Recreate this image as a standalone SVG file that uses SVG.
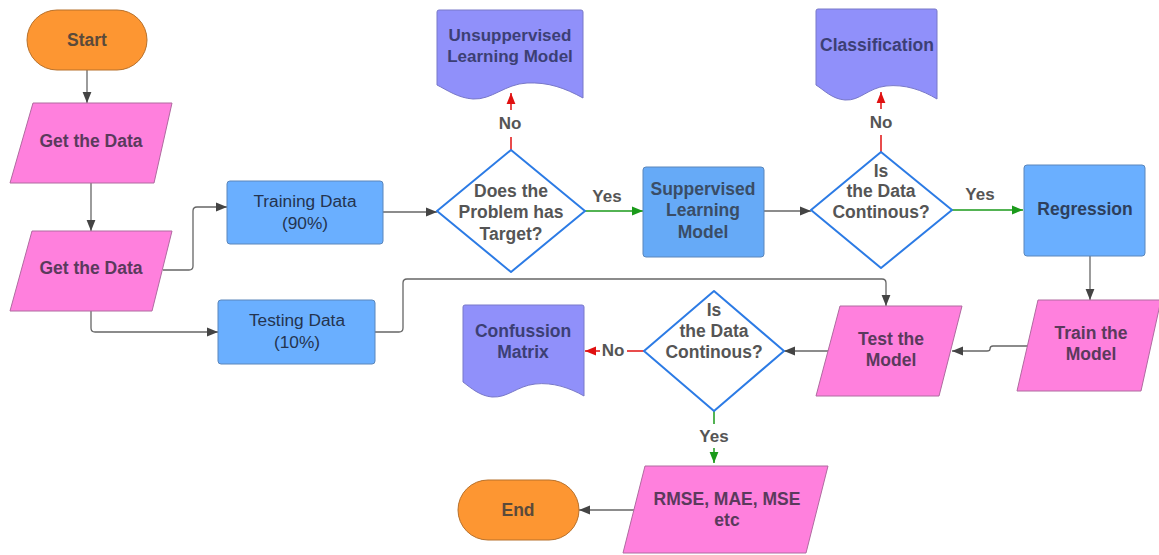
<svg xmlns="http://www.w3.org/2000/svg" width="1159" height="555" viewBox="0 0 1159 555">
<style>
text{font-family:"Liberation Sans",Arial,sans-serif;text-anchor:middle;dominant-baseline:central}
.b{font-weight:bold}
.term{fill:#fd9632;stroke:#b7702a;stroke-width:1}
.io{fill:#ff80dd;stroke:#b06aa0;stroke-width:1;stroke-linejoin:round}
.proc{fill:#6aafff;stroke:#5a86bb;stroke-width:1}
.doc{fill:#9090fa;stroke:#7878c8;stroke-width:1}
.dec{fill:#fff;stroke:#2c7be5;stroke-width:2;stroke-linejoin:round}
.tio{fill:#5a3a5c;font-size:17.5px}
.tproc{fill:#24344f;font-size:17.3px}
.tdoc{fill:#3c3f74;font-size:17.5px}
.tdec{fill:#555;font-size:17.5px}
.tterm{fill:#5a4a3a;font-size:17.5px}
.lbl{fill:#555;font-size:17px;font-weight:bold}
.c{fill:none;stroke:#666;stroke-width:1.3}
.r{fill:none;stroke:#e01010;stroke-width:1.5}
.g{fill:none;stroke:#1a9a1a;stroke-width:1.5}
</style>
<defs>
<marker id="ag" viewBox="0 0 10 10" refX="10" refY="5" markerWidth="11" markerHeight="11" markerUnits="userSpaceOnUse" orient="auto"><path d="M0,1 L10,5 L0,9 z" fill="#444"/></marker>
<marker id="ar" viewBox="0 0 10 10" refX="10" refY="5" markerWidth="11" markerHeight="11" markerUnits="userSpaceOnUse" orient="auto"><path d="M0,1 L10,5 L0,9 z" fill="#e01010"/></marker>
<marker id="agr" viewBox="0 0 10 10" refX="10" refY="5" markerWidth="11" markerHeight="11" markerUnits="userSpaceOnUse" orient="auto"><path d="M0,1 L10,5 L0,9 z" fill="#1a9a1a"/></marker>
</defs>
<rect width="1159" height="555" fill="#fff"/>

<g id="connectors">
<path class="c" d="M87,70 V103" marker-end="url(#ag)"/>
<path class="c" d="M91,183 V231" marker-end="url(#ag)"/>
<path class="c" d="M163,270 H189 Q193,270 193,266 V211 Q193,207 197,207 H227" marker-end="url(#ag)"/>
<path class="c" d="M91,311 V328 Q91,332 95,332 H218" marker-end="url(#ag)"/>
<path class="c" d="M383,212 H437" marker-end="url(#ag)"/>
<path class="r" d="M511,150 V137"/>
<path class="r" d="M511,110 V93" marker-end="url(#ar)"/>
<path class="g" d="M585,211 H643" marker-end="url(#agr)"/>
<path class="c" d="M764,211 H811" marker-end="url(#ag)"/>
<path class="r" d="M881,152 V135"/>
<path class="r" d="M881,109 V92" marker-end="url(#ar)"/>
<path class="g" d="M952,210 H1023" marker-end="url(#agr)"/>
<path class="c" d="M1090,256 V300" marker-end="url(#ag)"/>
<path class="c" d="M1028,346 H993 Q990,346 990,349 Q990,351 987,351 H952" marker-end="url(#ag)"/>
<path class="c" d="M375,332 H399 Q403,332 403,328 V283 Q403,279 407,279 H882 Q886,279 886,283 V306" marker-end="url(#ag)"/>
<path class="c" d="M830,351 H784" marker-end="url(#ag)"/>
<path class="r" d="M644,351 H627"/>
<path class="r" d="M600,351 H585" marker-end="url(#ar)"/>
<path class="g" d="M714,411 V424"/>
<path class="g" d="M714,448 V463" marker-end="url(#agr)"/>
<path class="c" d="M635,510 H579" marker-end="url(#ag)"/>
<text class="lbl" x="510" y="123">No</text>
<text class="lbl" x="607" y="196">Yes</text>
<text class="lbl" x="881" y="122">No</text>
<text class="lbl" x="980" y="194">Yes</text>
<text class="lbl" x="613" y="350">No</text>
<text class="lbl" x="714" y="436">Yes</text>
</g>

<g id="start">
<rect class="term" x="27" y="10" width="120" height="60" rx="30"/>
<text class="tterm b" x="87" y="40">Start</text>
</g>
<g id="get-data-1">
<path class="io" d="M33,103 H172 L154,183 H10 Z"/>
<text class="tio b" x="91" y="141">Get the Data</text>
</g>
<g id="get-data-2">
<path class="io" d="M32,231 H172 L152,311 H10 Z"/>
<text class="tio b" x="91" y="268">Get the Data</text>
</g>
<g id="training-data">
<rect class="proc" x="227" y="181" width="156" height="63" rx="3"/>
<text class="tproc" x="305" y="201">Training Data</text>
<text class="tproc" x="305" y="223">(90%)</text>
</g>
<g id="testing-data">
<rect class="proc" x="218" y="300" width="157" height="64" rx="3"/>
<text class="tproc" x="297" y="320">Testing Data</text>
<text class="tproc" x="297" y="342">(10%)</text>
</g>
<g id="has-target">
<path class="dec" d="M511,150 L585,211 L511,272 L437,211 Z"/>
<text class="tdec b" x="511" y="191">Does the</text>
<text class="tdec b" x="511" y="212">Problem has</text>
<text class="tdec b" x="511" y="234">Target?</text>
</g>
<g id="unsupervised">
<path class="doc" d="M437,12 Q437,10 439,10 H581 Q583,10 583,12 V98 C565,88 548,82 527,83 C505,84 492,100 473,99 C458,98 447,90 437,85 Z"/>
<text class="tdoc b" x="510" y="35" style="font-size:17px">Unsuppervised</text>
<text class="tdoc b" x="510" y="56" style="font-size:17px">Learning Model</text>
</g>
<g id="supervised">
<rect class="proc" x="643" y="167" width="121" height="90" rx="3" style="fill:#66aaf7"/>
<text class="tdoc b" x="703" y="189" style="fill:#3a4d66">Suppervised</text>
<text class="tdoc b" x="703" y="210" style="fill:#3a4d66">Learning</text>
<text class="tdoc b" x="703" y="232" style="fill:#3a4d66">Model</text>
</g>
<g id="continuous-1">
<path class="dec" d="M881,152 L952,210 L881,268 L811,210 Z"/>
<text class="tdec b" x="881" y="171">Is</text>
<text class="tdec b" x="881" y="191">the Data</text>
<text class="tdec b" x="881" y="212">Continous?</text>
</g>
<g id="classification">
<path class="doc" d="M816,11 Q816,9 818,9 H935 Q937,9 937,11 V99 C922,90 905,84 886,86 C868,88 860,101 845,100 C832,99 824,90 816,85 Z"/>
<text class="tdoc b" x="877" y="45">Classification</text>
</g>
<g id="regression">
<rect class="proc" x="1024" y="165" width="121" height="91" rx="3"/>
<text class="tdoc b" x="1085" y="209" style="fill:#2e3f5c">Regression</text>
</g>
<g id="train-model">
<path class="io" d="M1038,300 H1161 L1141,391 H1017 Z"/>
<text class="tio b" x="1091" y="333">Train the</text>
<text class="tio b" x="1091" y="354">Model</text>
</g>
<g id="test-model">
<path class="io" d="M840,306 H962 L939,396 H816 Z"/>
<text class="tio b" x="891" y="339">Test the</text>
<text class="tio b" x="891" y="360">Model</text>
</g>
<g id="continuous-2">
<path class="dec" d="M714,291 L784,351 L714,411 L644,351 Z"/>
<text class="tdec b" x="714" y="310">Is</text>
<text class="tdec b" x="714" y="331">the Data</text>
<text class="tdec b" x="714" y="352">Continous?</text>
</g>
<g id="confusion-matrix">
<path class="doc" d="M463,307 Q463,305 465,305 H582 Q584,305 584,307 V396 C570,388 553,382 535,384 C517,386 508,398 492,397 C480,396 471,388 463,382 Z"/>
<text class="tdoc b" x="523" y="331">Confussion</text>
<text class="tdoc b" x="523" y="352">Matrix</text>
</g>
<g id="metrics">
<path class="io" d="M645,466 H828 L806,553 H623 Z"/>
<text class="tio b" x="727" y="499">RMSE, MAE, MSE</text>
<text class="tio b" x="727" y="520">etc</text>
</g>
<g id="end">
<rect class="term" x="458" y="480" width="121" height="60" rx="30"/>
<text class="tterm b" x="518" y="510">End</text>
</g>
</svg>
